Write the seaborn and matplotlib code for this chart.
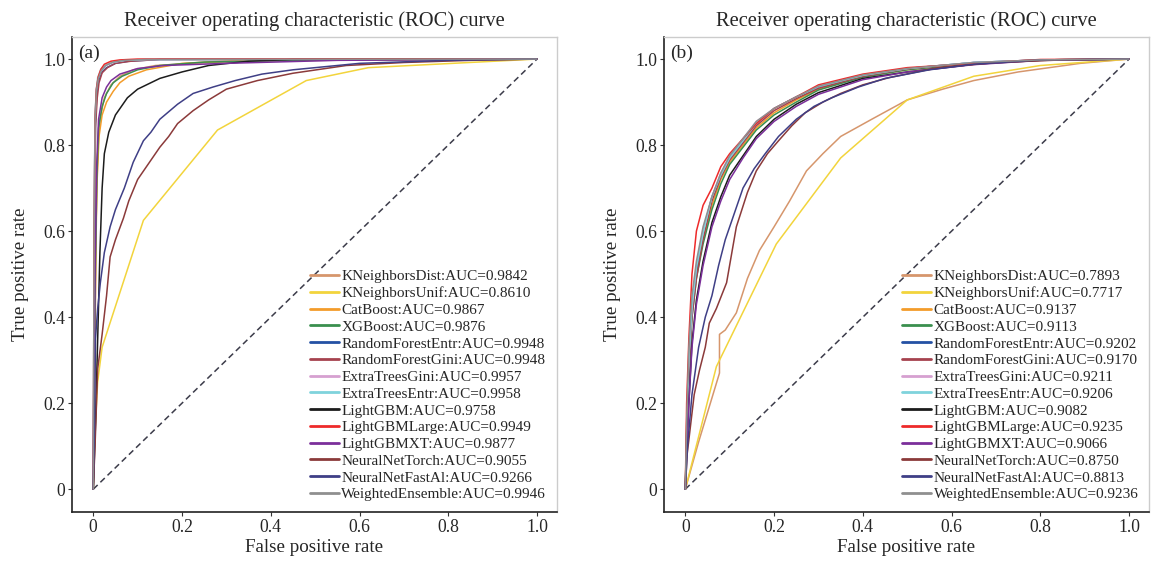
import numpy as np
import pandas as pd
import matplotlib
matplotlib.use('Agg')
import matplotlib.pyplot as plt
from matplotlib.ticker import FuncFormatter
import seaborn as sns

# model names, colours and AUC values
models = ['KNeighborsDist', 'KNeighborsUnif', 'CatBoost', 'XGBoost', 'RandomForestEntr',
          'RandomForestGini', 'ExtraTreesGini', 'ExtraTreesEntr', 'LightGBM', 'LightGBMLarge',
          'LightGBMXT', 'NeuralNetTorch', 'NeuralNetFastAl', 'WeightedEnsemble']
colors = ['#d6966c', '#f2d43c', '#f39c2a', '#3a8f4e', '#2451a4', '#a6424e', '#d6a0d0',
          '#7fd3dc', '#1c1c1c', '#ee2a2a', '#7b2f9a', '#8b3a3a', '#3f3f86', '#8f8f8f']
auc_a = [0.9842, 0.8610, 0.9867, 0.9876, 0.9948, 0.9948, 0.9957, 0.9958, 0.9758, 0.9949,
         0.9877, 0.9055, 0.9266, 0.9946]
auc_b = [0.7893, 0.7717, 0.9137, 0.9113, 0.9202, 0.9170, 0.9211, 0.9206, 0.9082, 0.9235,
         0.9066, 0.8750, 0.8813, 0.9236]

# (a) ROC points: (fpr, tpr) per model
fpr_a = {
    'KNeighborsDist': [0, 0.004, 0.006, 0.01, 0.015, 0.025, 0.04, 0.06, 0.09, 0.14, 0.22, 0.35, 0.6, 1],
    'KNeighborsUnif': [0, 0.003, 0.01, 0.02, 0.113, 0.28, 0.48, 0.62, 1],
    'CatBoost': [0, 0.004, 0.008, 0.013, 0.02, 0.03, 0.045, 0.06, 0.08, 0.12, 0.2, 0.35, 1],
    'XGBoost': [0, 0.004, 0.008, 0.012, 0.02, 0.03, 0.045, 0.065, 0.1, 0.15, 0.25, 0.5, 1],
    'RandomForestEntr': [0, 0.003, 0.005, 0.008, 0.012, 0.02, 0.03, 0.05, 0.08, 0.15, 1],
    'RandomForestGini': [0, 0.003, 0.005, 0.009, 0.013, 0.02, 0.032, 0.05, 0.085, 0.15, 1],
    'ExtraTreesGini': [0, 0.002, 0.004, 0.007, 0.011, 0.018, 0.028, 0.045, 0.07, 0.12, 1],
    'ExtraTreesEntr': [0, 0.002, 0.004, 0.007, 0.01, 0.017, 0.027, 0.045, 0.07, 0.12, 1],
    'LightGBM': [0, 0.005, 0.01, 0.015, 0.02, 0.025, 0.035, 0.05, 0.077, 0.1, 0.15, 0.2, 0.26, 0.35, 0.45, 1],
    'LightGBMLarge': [0, 0.002, 0.004, 0.007, 0.011, 0.017, 0.025, 0.04, 0.06, 0.1, 1],
    'LightGBMXT': [0, 0.004, 0.008, 0.012, 0.02, 0.03, 0.04, 0.06, 0.1, 0.16, 0.3, 0.55, 1],
    'NeuralNetTorch': [0, 0.004, 0.01, 0.015, 0.02, 0.03, 0.038, 0.05, 0.068, 0.08, 0.1, 0.12, 0.15,
                       0.17, 0.19, 0.225, 0.26, 0.3, 0.37, 0.45, 0.57, 0.7, 0.85, 1],
    'NeuralNetFastAl': [0, 0.003, 0.005, 0.01, 0.016, 0.025, 0.038, 0.05, 0.07, 0.09, 0.113, 0.13, 0.15,
                        0.19, 0.225, 0.27, 0.32, 0.38, 0.45, 0.6, 0.8, 1],
    'WeightedEnsemble': [0, 0.002, 0.004, 0.007, 0.011, 0.018, 0.028, 0.045, 0.07, 0.12, 1],
}
tpr_a = {
    'KNeighborsDist': [0, 0.3, 0.6, 0.78, 0.86, 0.91, 0.94, 0.96, 0.975, 0.985, 0.99, 0.995, 0.998, 1],
    'KNeighborsUnif': [0, 0.12, 0.25, 0.33, 0.625, 0.835, 0.95, 0.98, 1],
    'CatBoost': [0, 0.4, 0.7, 0.82, 0.87, 0.9, 0.925, 0.945, 0.96, 0.975, 0.99, 0.998, 1],
    'XGBoost': [0, 0.45, 0.72, 0.84, 0.89, 0.92, 0.945, 0.96, 0.975, 0.985, 0.993, 0.998, 1],
    'RandomForestEntr': [0, 0.6, 0.85, 0.92, 0.95, 0.97, 0.98, 0.99, 0.995, 0.999, 1],
    'RandomForestGini': [0, 0.58, 0.84, 0.91, 0.945, 0.968, 0.98, 0.99, 0.995, 0.999, 1],
    'ExtraTreesGini': [0, 0.62, 0.86, 0.93, 0.955, 0.975, 0.985, 0.992, 0.997, 0.999, 1],
    'ExtraTreesEntr': [0, 0.63, 0.87, 0.93, 0.957, 0.976, 0.986, 0.993, 0.997, 0.999, 1],
    'LightGBM': [0, 0.15, 0.35, 0.55, 0.7, 0.78, 0.83, 0.87, 0.91, 0.93, 0.955, 0.97, 0.985, 0.995, 0.999, 1],
    'LightGBMLarge': [0, 0.6, 0.86, 0.93, 0.958, 0.976, 0.988, 0.995, 0.998, 1, 1],
    'LightGBMXT': [0, 0.5, 0.76, 0.86, 0.91, 0.935, 0.95, 0.965, 0.978, 0.985, 0.99, 0.997, 1],
    'NeuralNetTorch': [0, 0.1, 0.28, 0.32, 0.36, 0.45, 0.54, 0.58, 0.63, 0.67, 0.72, 0.75, 0.795,
                       0.82, 0.85, 0.88, 0.905, 0.93, 0.95, 0.967, 0.985, 0.992, 0.997, 1],
    'NeuralNetFastAl': [0, 0.15, 0.35, 0.42, 0.48, 0.55, 0.61, 0.65, 0.7, 0.76, 0.81, 0.83, 0.86,
                        0.895, 0.92, 0.935, 0.95, 0.965, 0.975, 0.99, 0.997, 1],
    'WeightedEnsemble': [0, 0.6, 0.85, 0.925, 0.953, 0.973, 0.985, 0.993, 0.997, 0.999, 1],
}

# (b) ROC points
grid_b = [0, 0.003, 0.008, 0.015, 0.025, 0.04, 0.06, 0.08, 0.1, 0.13, 0.16, 0.2, 0.25, 0.3, 0.4, 0.5, 0.65, 0.8, 1]
fpr_b = {
    'KNeighborsDist': [0, 0.03, 0.077, 0.077, 0.09, 0.115, 0.14, 0.167, 0.2, 0.235, 0.273, 0.31, 0.35,
                       0.42, 0.5, 0.58, 0.65, 0.75, 0.89, 1],
    'KNeighborsUnif': [0, 0.07, 0.205, 0.35, 0.5, 0.65, 0.8, 1],
    'CatBoost': grid_b, 'XGBoost': grid_b, 'RandomForestEntr': grid_b, 'RandomForestGini': grid_b,
    'ExtraTreesGini': grid_b, 'ExtraTreesEntr': grid_b, 'LightGBM': grid_b, 'LightGBMLarge': grid_b,
    'LightGBMXT': grid_b, 'WeightedEnsemble': grid_b,
    'NeuralNetTorch': [0, 0.004, 0.012, 0.02, 0.032, 0.045, 0.054, 0.07, 0.093, 0.115, 0.14, 0.16, 0.185,
                       0.21, 0.24, 0.27, 0.31, 0.35, 0.4, 0.46, 0.57, 0.7, 0.85, 1],
    'NeuralNetFastAl': [0, 0.005, 0.015, 0.03, 0.045, 0.06, 0.075, 0.09, 0.11, 0.13, 0.155, 0.18, 0.21,
                        0.25, 0.29, 0.33, 0.39, 0.45, 0.55, 0.65, 0.8, 1],
}
tpr_b = {
    'KNeighborsDist': [0, 0.11, 0.27, 0.36, 0.37, 0.41, 0.49, 0.555, 0.61, 0.67, 0.74, 0.78, 0.82,
                       0.86, 0.905, 0.93, 0.95, 0.97, 0.99, 1],
    'KNeighborsUnif': [0, 0.285, 0.57, 0.77, 0.905, 0.96, 0.985, 1],
    'CatBoost': [0, 0.15, 0.3, 0.42, 0.5, 0.58, 0.66, 0.72, 0.76, 0.8, 0.84, 0.875, 0.905, 0.93, 0.96, 0.975, 0.99, 0.998, 1],
    'XGBoost': [0, 0.13, 0.28, 0.4, 0.49, 0.57, 0.65, 0.71, 0.755, 0.795, 0.835, 0.87, 0.9, 0.928, 0.958, 0.975, 0.99, 0.998, 1],
    'RandomForestEntr': [0, 0.12, 0.3, 0.42, 0.51, 0.6, 0.68, 0.73, 0.77, 0.81, 0.85, 0.885, 0.912, 0.935, 0.962, 0.978, 0.992, 0.998, 1],
    'RandomForestGini': [0, 0.1, 0.27, 0.4, 0.49, 0.58, 0.67, 0.725, 0.765, 0.805, 0.845, 0.88, 0.908, 0.932, 0.96, 0.977, 0.991, 0.998, 1],
    'ExtraTreesGini': [0, 0.14, 0.31, 0.43, 0.52, 0.6, 0.68, 0.735, 0.775, 0.815, 0.855, 0.885, 0.912, 0.937, 0.963, 0.978, 0.992, 0.998, 1],
    'ExtraTreesEntr': [0, 0.13, 0.3, 0.42, 0.515, 0.595, 0.68, 0.73, 0.77, 0.81, 0.85, 0.885, 0.912, 0.936, 0.962, 0.978, 0.992, 0.998, 1],
    'LightGBM': [0, 0.1, 0.2, 0.34, 0.44, 0.53, 0.62, 0.68, 0.73, 0.775, 0.82, 0.86, 0.895, 0.922, 0.955, 0.97, 0.988, 0.997, 1],
    'LightGBMLarge': [0, 0.2, 0.35, 0.5, 0.6, 0.66, 0.7, 0.75, 0.78, 0.815, 0.85, 0.885, 0.912, 0.94, 0.965, 0.98, 0.99, 0.999, 1],
    'LightGBMXT': [0, 0.08, 0.2, 0.33, 0.43, 0.52, 0.61, 0.67, 0.72, 0.77, 0.815, 0.855, 0.89, 0.918, 0.952, 0.97, 0.987, 0.997, 1],
    'NeuralNetTorch': [0, 0.08, 0.15, 0.22, 0.277, 0.33, 0.386, 0.42, 0.48, 0.61, 0.69, 0.74, 0.78,
                       0.81, 0.845, 0.875, 0.9, 0.92, 0.94, 0.957, 0.98, 0.992, 0.998, 1],
    'NeuralNetFastAl': [0, 0.1, 0.22, 0.33, 0.4, 0.45, 0.52, 0.58, 0.64, 0.70, 0.745, 0.78, 0.82,
                        0.86, 0.89, 0.91, 0.935, 0.955, 0.975, 0.988, 0.998, 1],
    'WeightedEnsemble': [0, 0.16, 0.33, 0.45, 0.53, 0.61, 0.68, 0.735, 0.775, 0.815, 0.855, 0.885, 0.912, 0.937, 0.963, 0.978, 0.992, 0.998, 1],
}


def build_df(fpr, tpr, aucs):
    rows = []
    for name, auc in zip(models, aucs):
        label = f'{name}:AUC={auc:.4f}'
        for x, y in zip(fpr[name], tpr[name]):
            rows.append({'fpr': x, 'tpr': y, 'model': label})
    return pd.DataFrame(rows)


sns.set_theme(style='white')
plt.rcParams['font.family'] = ['Liberation Serif', 'DejaVu Serif']

fig = plt.figure(figsize=(11.53, 5.64), dpi=100)
ax_a = fig.add_axes([0.0624, 0.0922, 0.4207, 0.842])
ax_b = fig.add_axes([0.5759, 0.0922, 0.4207, 0.842])

for ax, fpr, tpr, aucs, tag in [(ax_a, fpr_a, tpr_a, auc_a, '(a)'), (ax_b, fpr_b, tpr_b, auc_b, '(b)')]:
    df = build_df(fpr, tpr, aucs)
    labels = df['model'].unique()
    ax.plot([0, 1], [0, 1], ls=(0, (4, 2.5)), color='#3c3c4a', lw=1.1, zorder=1)
    sns.lineplot(data=df, x='fpr', y='tpr', hue='model', hue_order=labels,
                 palette=dict(zip(labels, colors)), estimator=None, sort=False,
                 linewidth=1.1, ax=ax)
    sns.move_legend(ax, 'lower right', bbox_to_anchor=(1.0, 0.0), title=None, frameon=False,
                    fontsize=11, handlelength=1.9, handletextpad=0.15, labelspacing=0.2,
                    borderaxespad=0.3)
    for h in ax.get_legend().get_lines():
        h.set_linewidth(2.0)

    ax.set_xlim(-0.048, 1.045)
    ax.set_ylim(-0.053, 1.051)
    ax.set_xticks([0, 0.2, 0.4, 0.6, 0.8, 1.0])
    ax.set_yticks([0, 0.2, 0.4, 0.6, 0.8, 1.0])
    fmt = FuncFormatter(lambda v, p: '0' if v == 0 else f'{v:.1f}')
    ax.xaxis.set_major_formatter(fmt)
    ax.yaxis.set_major_formatter(fmt)
    ax.tick_params(axis='both', direction='out', length=3, width=0.8, color='#333333',
                   labelsize=12.7, pad=2, bottom=True, left=True)
    ax.set_xlabel('False positive rate', fontsize=13.7, labelpad=2)
    ax.set_ylabel('True positive rate', fontsize=13.7, labelpad=10)
    ax.set_title('Receiver operating characteristic (ROC) curve', fontsize=14.8, pad=8)

    for side in ['left', 'bottom']:
        ax.spines[side].set_color('#222222')
        ax.spines[side].set_linewidth(1.2)
    for side in ['top', 'right']:
        ax.spines[side].set_color('#cccccc')
        ax.spines[side].set_linewidth(1.0)

    ax.text(0.012, 0.985, tag, transform=ax.transAxes, fontsize=14, va='top', ha='left')

fig.savefig('out.png', dpi=100)
